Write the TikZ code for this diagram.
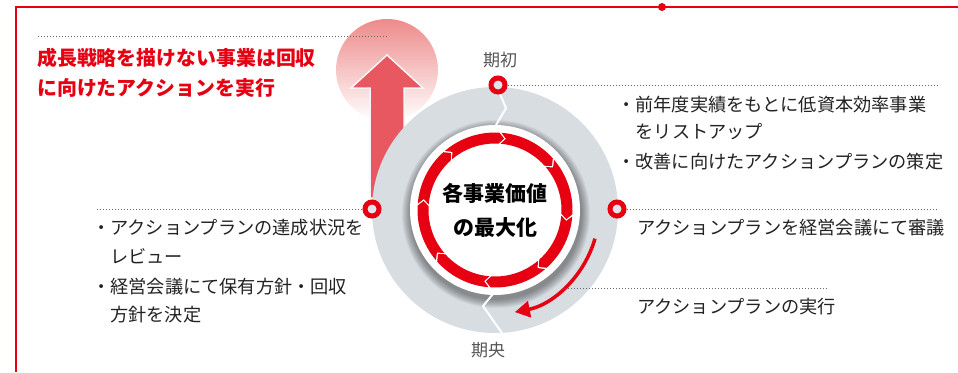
\documentclass[tikz,border=0pt]{standalone}
\usepackage{fontspec}
\newfontfamily\jp{Noto Sans CJK JP}
\usetikzlibrary{arrows.meta}
\definecolor{jred}{HTML}{E60012}
\definecolor{ringgray}{HTML}{D8DDE2}
\definecolor{arrowred}{HTML}{E85860}
\definecolor{fadered}{HTML}{EE8A8A}
\definecolor{txt}{HTML}{222222}
\definecolor{ptxt}{HTML}{555555}
\definecolor{dotgray}{HTML}{666666}
\definecolor{markfill}{HTML}{E1E4E8}
\begin{document}
\begin{tikzpicture}[x=1pt,y=1pt,
  body/.style={font=\jp\fontsize{18.2}{22}\selectfont, text=txt, inner sep=0, anchor=base west},
  heading/.style={font=\jp\bfseries\fontsize{19.9}{24}\selectfont, text=jred, inner sep=0, anchor=base west},
  period/.style={font=\jp\fontsize{17}{20}\selectfont, text=ptxt, inner sep=0, anchor=base},
  centertxt/.style={font=\jp\bfseries\fontsize{21}{24}\selectfont, text=black, inner sep=0, anchor=base},
  marker/.style={circle, draw=jred, line width=5pt, fill=markfill, minimum size=14pt, inner sep=0},
  dots/.style={dotgray, line width=1pt, dash pattern=on 1pt off 2pt},
  frame/.style={jred, line width=2.5pt}]
\useasboundingbox (0,0) rectangle (958,-372);

% frame
\coordinate (f0) at (16,-7);
\coordinate (f1) at (958,-7);
\coordinate (f2) at (16,-372);
\draw[frame] (f1) -- (f0) -- (f2);
\node[circle, fill=jred, minimum size=8pt, inner sep=0] (fdot) at (662,-7) {};

% gradient circle and big arrow
\shade[top color=fadered, middle color=fadered!55!white, bottom color=white] (387,-70) circle (51);
\filldraw[fill=arrowred, draw=white!92!gray, line width=1.5pt, line join=miter]
  (387,-55) -- (423,-88) -- (404,-88) -- (404,-198) -- (370,-198) -- (370,-88) -- (351,-88) -- cycle;

% ring
\coordinate (C) at (495,-210);
\fill[ringgray] (C) circle (123);
\foreach \i in {1,...,10} \fill[black,opacity=0.045] (496,-214) circle ({85+\i*0.9});
\fill[white] (C) circle (85);

% chevron separators
\draw[white, line width=2pt, line join=miter] (497,-87) -- (506,-108) -- (496,-125);
\draw[white, line width=2pt, line join=miter] (493,-294) -- (483,-306) -- (502,-333);

% red segmented cycle
\begin{scope}[shift={(495,-210)}]
\foreach \k in {0,...,7}{
  \pgfmathsetmacro\s{86-45*\k-0.75}
  \pgfmathsetmacro\e{86-45*(\k+1)+0.75}
  \pgfmathsetmacro\t{\e-4}
  \pgfmathsetmacro\n{\s-4}
  \fill[jred] (\s:77.5) arc[start angle=\s,end angle=\e,radius=77.5] -- (\t:72) -- (\e:66.5)
     arc[start angle=\e,end angle=\s,radius=66.5] -- (\n:72) -- cycle;
}
\coordinate (ca) at (-16:104);
\draw[jred, line width=3.5pt, -{Triangle[length=15pt,width=16pt]}] (ca) arc[start angle=-16,end angle=-79,radius=104];
\end{scope}

% centre text
\node[centertxt] (c1) at (495,-201) {各事業価値};
\node[centertxt] (c2) at (495,-235) {の最大化};

% markers
\node[marker] (mtop) at (498,-85) {};
\node[marker] (mleft) at (372,-209) {};
\node[marker] (mright) at (617,-209) {};

% dotted lines
\coordinate (dtop) at (937,-85);
\coordinate (dright) at (937,-209);
\coordinate (dleft) at (97,-209);
\coordinate (dlow1) at (565,-288);
\coordinate (dlow2) at (828,-288);
\coordinate (dtl1) at (38,-36);
\coordinate (dtl2) at (387,-36);
\draw[dots] (mtop.east) -- (dtop);
\draw[dots] (mright.east) -- (dright);
\draw[dots] (dleft) -- (mleft.west);
\draw[dots] (dlow1) -- (dlow2);
\draw[dots] (dtl1) -- (dtl2);

% period labels
\node[period] (p1) at (500,-66.5) {期初};
\node[period] (p2) at (488,-356.5) {期央};

% heading
\node[heading] (h1) at (37,-65.4) {成長戦略を描けない事業は回収};
\node[heading] (h2) at (37,-95.4) {に向けたアクションを実行};

% right texts
\node[body] (r1) at (617,-111.8) {・前年度実績をもとに低資本効率事業};
\node[body] (r2) at (635.5,-138.8) {をリストアップ};
\node[body] (r3) at (617,-168.8) {・改善に向けたアクションプランの策定};
\node[body] (r4) at (637,-234.8) {アクションプランを経営会議にて審議};
\node[body] (r5) at (637,-313.8) {アクションプランの実行};

% left texts
\node[body] (l1) at (92,-234.8) {・アクションプランの達成状況を};
\node[body] (l2) at (110,-263.8) {レビュー};
\node[body] (l3) at (92,-293.8) {・経営会議にて保有方針・回収};
\node[body] (l4) at (110,-321.8) {方針を決定};
\end{tikzpicture}
\end{document}
